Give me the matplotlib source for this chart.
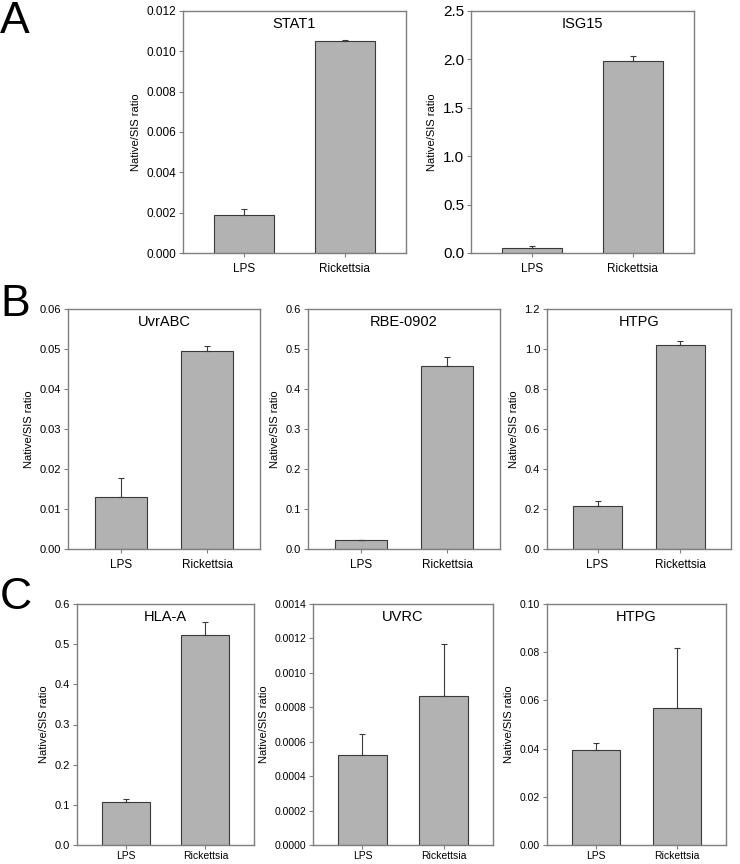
import matplotlib
matplotlib.use("Agg")
import matplotlib.pyplot as plt

plt.rcParams['font.family'] = ['Liberation Sans', 'DejaVu Sans']

groups = ['LPS', 'Rickettsia']

titles = ['STAT1', 'ISG15', 'UvrABC', 'RBE-0902', 'HTPG', 'HLA-A', 'UVRC', 'HTPG']
means = [
    [0.0019, 0.0105],
    [0.05, 1.98],
    [0.0129, 0.0494],
    [0.022, 0.457],
    [0.213, 1.02],
    [0.108, 0.523],
    [0.00052, 0.000865],
    [0.0396, 0.057],
]
errors = [
    [0.0003, 0.00005],
    [0.025, 0.06],
    [0.0048, 0.0013],
    [0.0, 0.023],
    [0.025, 0.018],
    [0.006, 0.032],
    [0.000123, 0.000305],
    [0.0028, 0.0248],
]
ymax = [0.012, 2.5, 0.06, 0.6, 1.2, 0.6, 0.0014, 0.10]
ystep = [0.002, 0.5, 0.01, 0.1, 0.2, 0.1, 0.0002, 0.02]
yfmt = ['%.3f', '%.1f', '%.2f', '%.1f', '%.1f', '%.1f', '%.4f', '%.2f']

# pixel boxes: left, right, top, bottom
boxes = [
    (183, 406, 11, 253),
    (471, 694, 11, 253),
    (68, 260, 309, 549),
    (308, 500, 309, 549),
    (547, 731, 309, 549),
    (77, 254, 604, 845),
    (313, 493, 604, 845),
    (547, 726, 604, 845),
]
tick_fs = [8.5, 11, 8, 8, 8, 8, 7.5, 7.5]
xtick_fs = [8.5, 8.5, 8.5, 8.5, 8.5, 7.5, 7.5, 7.5]
xtick_pad = [4, 4, 4, 4, 4, 1.5, 1.5, 1.5]

W, H = 740, 864
fig = plt.figure(figsize=(W / 100, H / 100), dpi=100)

spine_col = '#7f7f7f'
for i, (l, r, t, b) in enumerate(boxes):
    ax = fig.add_axes([l / W, 1 - b / H, (r - l) / W, (b - t) / H])
    x = [0, 1]
    ax.bar(x, means[i], width=0.6, color='#b2b2b2', edgecolor='#3a3a3a', linewidth=0.8, zorder=2)
    ax.errorbar(x, means[i], yerr=[[0, 0], errors[i]], fmt='none', ecolor='#3a3a3a',
                elinewidth=0.8, capsize=2.5, capthick=0.8, zorder=3)
    ax.set_xlim(-0.61, 1.61)
    ax.set_ylim(0, ymax[i])
    n = int(round(ymax[i] / ystep[i]))
    ticks = [k * ystep[i] for k in range(n + 1)]
    ax.set_yticks(ticks)
    ax.set_yticklabels([yfmt[i] % v for v in ticks])
    ax.set_xticks(x)
    ax.set_xticklabels(groups)
    ax.tick_params(axis='y', labelsize=tick_fs[i], length=3, width=0.8, color=spine_col, pad=2)
    ax.tick_params(axis='x', labelsize=xtick_fs[i], length=3, width=0.8, color=spine_col,
                   pad=xtick_pad[i])
    for s in ax.spines.values():
        s.set_color(spine_col)
        s.set_linewidth(1.0)
    ax.set_ylabel('Native/SIS ratio', fontsize=8, labelpad=4)
    ax.text(0.5, 0.945, titles[i], transform=ax.transAxes, ha='center', va='center',
            fontsize=10.5)

fig.text(0 / W, 1 - 1 / H, 'A', fontsize=32, va='top', ha='left')
fig.text(0 / W, 1 - 284 / H, 'B', fontsize=32, va='top', ha='left')
fig.text(0 / W, 1 - 577 / H, 'C', fontsize=32, va='top', ha='left')

fig.savefig('out.png', dpi=100)
